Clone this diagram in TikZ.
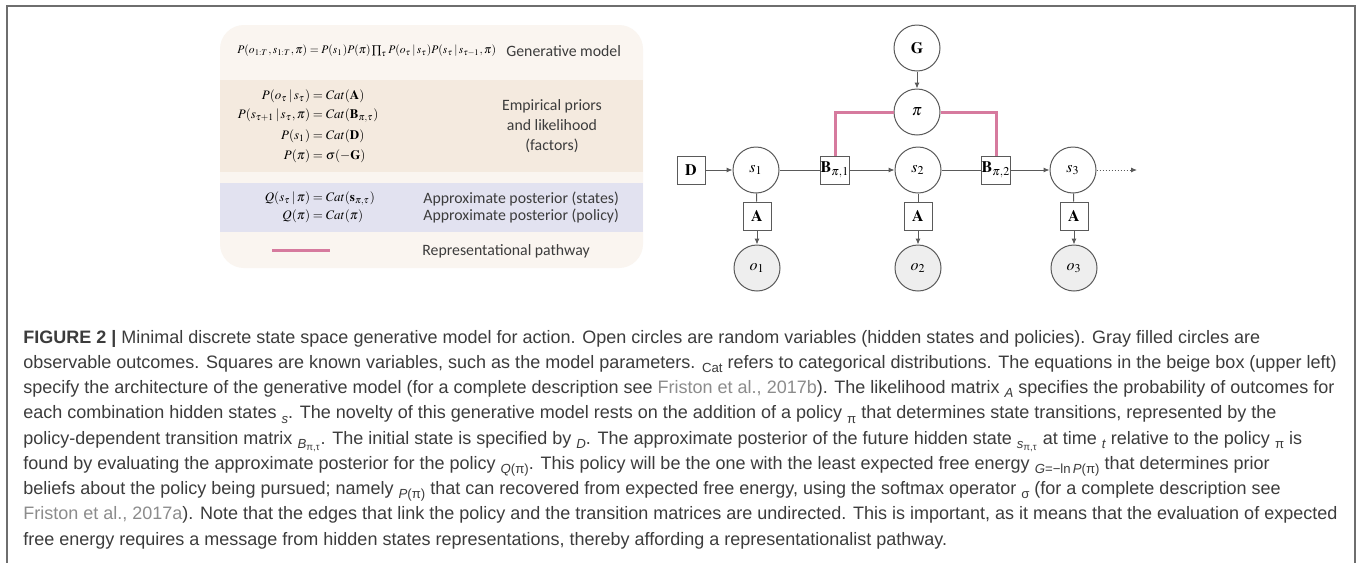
\documentclass[tikz,border=0pt]{standalone}
\usepackage{amsmath}
\usepackage{mathptmx}
\usepackage[no-math]{fontspec}
\setmainfont{Liberation Sans}
\newfontfamily\boxfont{Carlito}
\usetikzlibrary{arrows.meta}
\definecolor{boxout}{RGB}{250,245,240}
\definecolor{boxband}{RGB}{244,234,223}
\definecolor{boxlav}{RGB}{226,226,240}
\definecolor{pathpink}{RGB}{214,122,158}
\definecolor{linegray}{RGB}{90,90,90}
\definecolor{obsgray}{RGB}{238,238,238}
\definecolor{captext}{RGB}{60,60,60}
\definecolor{citegray}{RGB}{140,140,140}
\definecolor{framegray}{RGB}{110,110,110}
\newcommand{\inl}[1]{\raisebox{-0.45ex}{\fontsize{6.6}{7}\selectfont #1}}
\newcommand{\refg}[1]{\textcolor{citegray}{#1}}
\begin{document}
\begin{tikzpicture}[x=0.5pt,y=-0.5pt,
    every node/.style={font=\fontsize{8}{9.6}\selectfont},
    hidden/.style={circle,draw=linegray,line width=0.5pt,minimum size=23pt,inner sep=0pt},
    observed/.style={hidden,fill=obsgray},
    known/.style={rectangle,draw=linegray,line width=0.5pt,minimum size=14pt,inner sep=0pt},
    link/.style={draw=linegray,line width=0.5pt},
    arr/.style={link,-{Latex[length=3pt,width=2.6pt]}},
    pathway/.style={draw=pathpink,line width=1.5pt},
    eqn/.style={inner sep=0pt,font=\fontsize{6.5}{8}\selectfont},
    boxtext/.style={inner sep=0pt,text=captext,font=\boxfont\fontsize{7.9}{10}\selectfont},
    capline/.style={anchor=base west,inner sep=0pt,text=captext,font=\fontsize{9}{10}\selectfont}]
    \path[use as bounding box,fill=white] (0,0) rectangle (1357,563);
    \draw[framegray,line width=0.75pt] (7,563) -- (7,6) -- (1355,6) -- (1355,563);
    % legend box
    \fill[boxout,rounded corners=12pt] (220,25) rectangle (643,268);
    \fill[boxband] (220,80) rectangle (643,172);
    \fill[boxlav] (220,183) rectangle (643,232);
    \node[eqn,anchor=west,font=\fontsize{5.8}{7}\selectfont] (eqgen) at (237,51) {$P(o_{1:T},s_{1:T},\pi)=P(s_1)P(\pi)\prod_\tau P(o_\tau\,|\,s_\tau)P(s_\tau\,|\,s_{\tau-1},\pi)$};
    \node[boxtext,anchor=west] (lgen) at (506,51) {Generative model};
    \node[eqn] (eqA) at (318,96) {\llap{$P(o_\tau\,|\,s_\tau)$}${}={}$\rlap{$Cat(\mathbf{A})$}};
    \node[eqn] (eqB) at (318,116) {\llap{$P(s_{\tau+1}\,|\,s_\tau,\pi)$}${}={}$\rlap{$Cat(\mathbf{B}_{\pi,\tau})$}};
    \node[eqn] (eqD) at (318,136) {\llap{$P(s_1)$}${}={}$\rlap{$Cat(\mathbf{D})$}};
    \node[eqn] (eqG) at (318,156) {\llap{$P(\pi)$}${}={}$\rlap{$\sigma(-\mathbf{G})$}};
    \node[boxtext,align=center] (lemp) at (552,126) {Empirical priors\\and likelihood\\(factors)};
    \node[eqn] (eqQs) at (318,199) {\llap{$Q(s_\tau\,|\,\pi)$}${}={}$\rlap{$Cat(\mathbf{s}_{\pi,\tau})$}};
    \node[eqn] (eqQp) at (318,216) {\llap{$Q(\pi)$}${}={}$\rlap{$Cat(\boldsymbol{\pi})$}};
    \node[boxtext,anchor=west] (lstates) at (423,199) {Approximate posterior (states)};
    \node[boxtext,anchor=west] (lpolicy) at (423,216) {Approximate posterior (policy)};
    \draw[pathway] (272,250) -- (330,250);
    \node[boxtext,anchor=west] (lpath) at (422,251) {Representational pathway};
    % graphical model
    \node[hidden] (G) at (917,48) {$\mathbf{G}$};
    \node[hidden] (pi) at (917,112) {$\pi$};
    \node[known] (D) at (691,170) {$\mathbf{D}$};
    \node[hidden] (s1) at (756,170) {$s_1$};
    \node[known] (B1) at (835,170) {$\mathbf{B}_{\pi,1}$};
    \node[hidden] (s2) at (918,170) {$s_2$};
    \node[known] (B2) at (996,170) {$\mathbf{B}_{\pi,2}$};
    \node[hidden] (s3) at (1073,170) {$s_3$};
    \coordinate (next) at (1137,170);
    \node[known] (A1) at (757,216) {$\mathbf{A}$};
    \node[known] (A2) at (918,216) {$\mathbf{A}$};
    \node[known] (A3) at (1074,216) {$\mathbf{A}$};
    \node[observed] (o1) at (757,268) {$o_1$};
    \node[observed] (o2) at (918,268) {$o_2$};
    \node[observed] (o3) at (1074,268) {$o_3$};
    \draw[arr] (G) -- (pi);
    \draw[pathway] (pi) -| (B1);
    \draw[pathway] (pi) -| (B2);
    \draw[arr] (D) -- (s1);
    \draw[link] (s1) -- (B1);
    \draw[arr] (B1) -- (s2);
    \draw[link] (s2) -- (B2);
    \draw[arr] (B2) -- (s3);
    \draw[arr,densely dotted] (s3) -- (next);
    \draw[link] (s1) -- (A1);
    \draw[link] (s2) -- (A2);
    \draw[link] (s3) -- (A3);
    \draw[arr] (A1) -- (o1);
    \draw[arr] (A2) -- (o2);
    \draw[arr] (A3) -- (o3);
    % caption
    \node[capline] (cap1) at (23,343) {\textbf{FIGURE 2 |} Minimal discrete state space generative model for action. Open circles are random variables (hidden states and policies). Gray filled circles are};
    \node[capline] (cap2) at (23,368.25) {observable outcomes. Squares are known variables, such as the model parameters. \inl{Cat} refers to categorical distributions. The equations in the beige box (upper left)};
    \node[capline] (cap3) at (23,393.5) {specify the architecture of the generative model (for a complete description see \refg{Friston et al., 2017b}). The likelihood matrix \inl{\textit{A}} specifies the probability of outcomes for};
    \node[capline] (cap4) at (23,418.75) {each combination hidden states \inl{\textit{s}}. The novelty of this generative model rests on the addition of a policy \inl{π} that determines state transitions, represented by the};
    \node[capline] (cap5) at (23,444) {policy-dependent transition matrix \inl{\textit{B}\textsubscript{π,τ}}. The initial state is specified by \inl{\textit{D}}. The approximate posterior of the future hidden state \inl{\textit{s}\textsubscript{π,τ}} at time \inl{\textit{t}} relative to the policy \inl{π} is};
    \node[capline] (cap6) at (23,469.25) {found by evaluating the approximate posterior for the policy \inl{\textit{Q}(π)}. This policy will be the one with the least expected free energy \inl{\textit{G}=−ln\,\textit{P}(π)} that determines prior};
    \node[capline] (cap7) at (23,494.5) {beliefs about the policy being pursued; namely \inl{\textit{P}(π)} that can recovered from expected free energy, using the softmax operator \inl{σ} (for a complete description see};
    \node[capline] (cap8) at (23,519.75) {\refg{Friston et al., 2017a}). Note that the edges that link the policy and the transition matrices are undirected. This is important, as it means that the evaluation of expected};
    \node[capline] (cap9) at (23,545) {free energy requires a message from hidden states representations, thereby affording a representationalist pathway.};
\end{tikzpicture}
\end{document}
